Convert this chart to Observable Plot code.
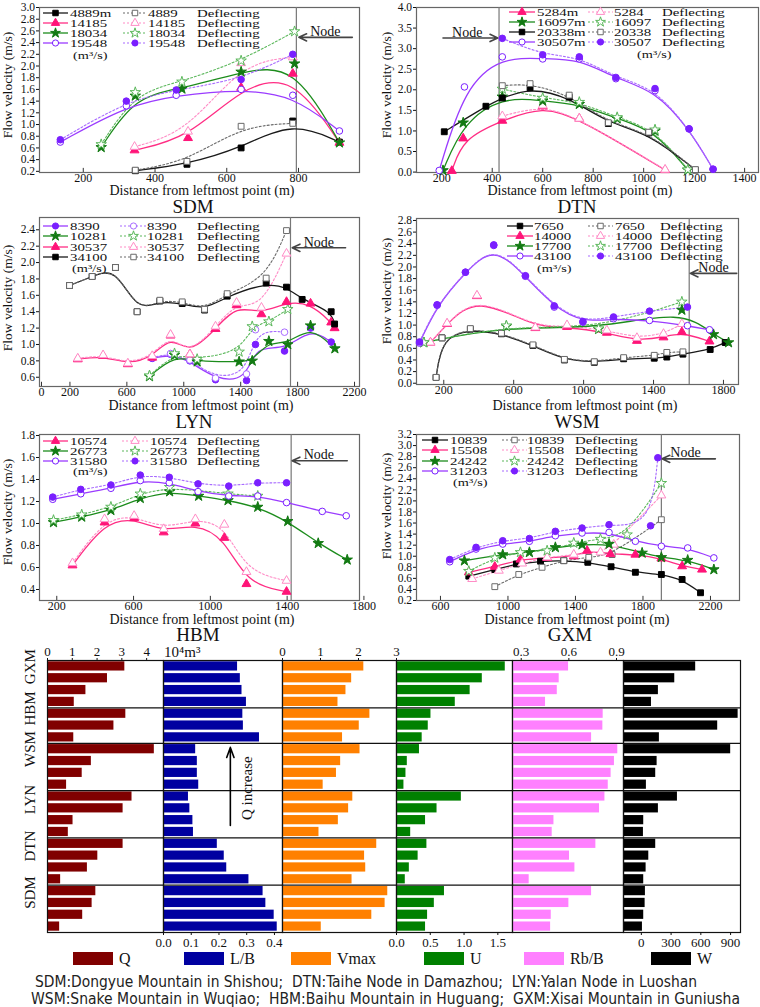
<!DOCTYPE html>
<html><head><meta charset="utf-8">
<script src="https://cdn.jsdelivr.net/npm/d3@7"></script>
<script src="https://cdn.jsdelivr.net/npm/@observablehq/plot@0.6"></script>
<style>
body{margin:0;background:#fff;}
#wrap{position:relative;width:760px;height:1007px;overflow:hidden;background:#fff;}
</style></head><body><div id="wrap"></div>
<script>
// ================= DATA: line panels ([distance m, velocity m/s]) =================
// SDM
const SDM_4889    = [[345,0.21],[489,0.32],[640,0.60],[784,1.06],[914,0.70]];
const SDM_4889_D  = [[345,0.22],[489,0.37],[640,0.97],[784,1.02]];
const SDM_14185   = [[343,0.56],[492,0.77],[640,1.63],[784,1.87],[914,0.69]];
const SDM_14185_D = [[343,0.62],[492,0.88],[640,2.05],[784,2.15]];
const SDM_18034   = [[250,0.61],[345,1.49],[475,1.61],[640,1.90],[789,2.04],[914,0.69]];
const SDM_18034_D = [[250,0.66],[345,1.55],[475,1.73],[640,2.09],[789,2.59]];
const SDM_19548   = [[136,0.70],[320,1.32],[459,1.50],[640,1.60],[784,1.50],[914,0.89]];
const SDM_19548_D = [[136,0.74],[320,1.40],[459,1.59],[640,1.77],[784,2.20]];
// DTN
const DTN_5284    = [[240,0.03],[285,0.82],[440,1.25],[600,1.60],[745,1.30],[1085,0.05]];
const DTN_5284_D  = [[440,1.36],[600,1.62],[745,1.30],[1085,0.06]];
const DTN_16097   = [[205,0.04],[285,1.20],[440,1.83],[600,1.73],[745,1.65],[895,1.30],[1045,1.00],[1175,0.05]];
const DTN_16097_D = [[440,2.02],[600,1.80],[745,1.70],[895,1.33],[1045,1.03],[1175,0.06]];
const DTN_20338   = [[210,0.98],[375,1.60],[440,1.80],[550,2.05],[705,1.82],[860,1.18],[1020,0.95],[1205,0.05]];
const DTN_20338_D = [[440,2.10],[550,2.15],[705,1.87],[860,1.20],[1020,0.97],[1205,0.06]];
const DTN_30507   = [[190,0.04],[290,2.07],[440,2.80],[600,2.75],[745,2.75],[890,2.27],[1045,1.98],[1180,1.05],[1275,0.07]];
const DTN_30507_D = [[440,3.25],[600,2.85],[745,2.80],[890,2.30],[1045,2.03],[1180,1.05],[1275,0.07]];
// LYN
const LYN_8390    = [[778,0.83],[907,0.88],[1043,0.80],[1223,0.57],[1441,0.56],[1504,1.00],[1708,0.92],[1891,1.20],[2036,1.03]];
const LYN_8390_D  = [[778,0.84],[907,0.89],[1043,0.81],[1223,0.59],[1441,0.64],[1504,1.18],[1708,1.15]];
const LYN_10281   = [[759,0.61],[935,0.87],[1094,0.79],[1389,0.79],[1481,0.80],[1598,1.04],[1731,1.00],[1891,1.23],[2062,0.95]];
const LYN_10281_D = [[759,0.62],[935,0.89],[1094,0.82],[1389,0.91],[1481,1.22],[1598,1.28],[1731,1.43]];
const LYN_30537   = [[255,0.82],[433,0.86],[607,0.76],[778,0.84],[907,1.11],[1043,0.88],[1223,1.19],[1371,1.48],[1546,1.37],[1722,1.52],[1891,1.50],[2036,1.27],[2060,1.20]];
const LYN_30537_D = [[255,0.83],[433,0.87],[607,0.77],[778,0.86],[907,1.12],[1043,0.88],[1223,1.22],[1371,1.51],[1546,1.45],[1722,2.11]];
const LYN_34100   = [[197,1.72],[356,1.83],[520,1.94],[672,1.40],[832,1.53],[989,1.50],[1146,1.42],[1305,1.59],[1579,1.75],[1722,1.70],[1832,1.55],[2036,1.40],[2060,1.25]];
const LYN_34100_D = [[197,1.72],[356,1.83],[520,1.94],[672,1.40],[832,1.54],[989,1.52],[1146,1.43],[1305,1.62],[1579,1.81],[1722,2.39]];
// WSM
const WSM_7650    = [[156,0.10],[190,0.78],[352,0.93],[530,0.85],[710,0.65],[890,0.40],[1061,0.36],[1229,0.42],[1404,0.43],[1476,0.45],[1568,0.50],[1724,0.58],[1810,0.70]];
const WSM_7650_D  = [[156,0.10],[190,0.78],[352,0.94],[530,0.86],[710,0.66],[890,0.41],[1061,0.37],[1229,0.44],[1404,0.48],[1476,0.53],[1568,0.54]];
const WSM_14000   = [[124,0.70],[219,1.02],[390,1.50],[724,0.95],[905,0.97],[1133,0.87],[1305,0.73],[1457,0.79],[1562,0.88],[1720,0.72]];
const WSM_14000_D = [[124,0.70],[219,1.03],[390,1.51],[724,0.96],[905,1.00],[1133,0.91],[1305,0.78],[1457,0.85],[1562,1.02]];
const WSM_17700   = [[86,0.70],[558,0.98],[1086,0.93],[1562,1.26],[1743,0.84],[1829,0.70]];
const WSM_17700_D = [[86,0.70],[558,0.99],[1086,0.94],[1562,1.40]];
const WSM_43100   = [[61,0.69],[162,1.34],[324,1.91],[486,2.37],[667,1.84],[832,1.31],[996,1.05],[1171,1.11],[1377,1.08],[1594,0.99],[1720,0.92]];
const WSM_43100_D = [[61,0.71],[162,1.35],[324,1.91],[486,2.38],[667,1.85],[832,1.33],[996,1.06],[1171,1.14],[1377,1.24],[1594,1.31]];
// HBM
const HBM_10574   = [[282,0.62],[449,1.01],[603,1.05],[757,0.92],[922,1.00],[1073,0.87],[1188,0.45],[1397,0.38]];
const HBM_10574_D = [[282,0.64],[449,1.04],[603,1.07],[757,0.95],[922,1.04],[1073,0.99],[1188,0.56],[1397,0.48]];
const HBM_26773   = [[183,1.01],[330,1.06],[482,1.12],[635,1.23],[788,1.29],[939,1.25],[1092,1.21],[1247,1.15],[1403,1.02],[1562,0.82],[1713,0.67]];
const HBM_26773_D = [[183,1.03],[330,1.08],[482,1.15],[635,1.27],[788,1.33],[1092,1.27],[1247,1.25]];
const HBM_31580   = [[179,1.22],[325,1.27],[482,1.32],[635,1.39],[786,1.37],[936,1.29],[1096,1.25],[1247,1.25],[1397,1.19],[1583,1.11],[1708,1.07]];
const HBM_31580_D = [[179,1.24],[325,1.31],[482,1.35],[635,1.44],[786,1.42],[936,1.36],[1096,1.34],[1247,1.37],[1397,1.37]];
// GXM
const GXM_10839   = [[768,0.64],[922,0.76],[1050,0.86],[1193,0.91],[1331,0.92],[1473,0.89],[1611,0.81],[1755,0.71],[1909,0.67],[2032,0.58],[2141,0.34]];
const GXM_10839_D = [[922,0.45],[1064,0.67],[1202,0.80],[1331,0.92],[1479,0.98],[1617,1.03],[1909,1.66]];
const GXM_15508   = [[768,0.71],[922,0.81],[1074,0.94],[1232,0.97],[1390,1.00],[1469,1.10],[1607,1.04],[1755,1.03],[1909,0.96],[2032,0.82],[2150,0.76]];
const GXM_15508_D = [[788,0.59],[946,0.74],[1084,0.87],[1232,0.98],[1390,1.03],[1548,1.07],[1627,1.21],[1909,2.10]];
const GXM_24242   = [[742,0.92],[969,1.03],[1127,1.07],[1281,1.16],[1439,1.21],[1599,1.22],[1795,1.06],[1909,0.98],[2065,0.93],[2220,0.76]];
const GXM_24242_D = [[768,0.73],[922,0.97],[1074,1.07],[1232,1.10],[1390,1.24],[1548,1.31],[1706,1.39],[1909,2.32]];
const GXM_31203   = [[655,0.90],[811,1.13],[969,1.22],[1127,1.27],[1281,1.37],[1439,1.42],[1599,1.43],[1755,1.27],[1909,1.18],[2065,1.15],[2220,0.97]];
const GXM_31203_D = [[655,0.94],[811,1.16],[969,1.28],[1127,1.32],[1281,1.45],[1439,1.51],[1599,1.57],[1845,1.55],[1888,2.78]];

// ticks
const SDM_XTICKS = [200,400,600,800];
const SDM_YTICKS = [0.2,0.4,0.6,0.8,1.0,1.2,1.4,1.6,1.8,2.0,2.2,2.4,2.6,2.8,3.0];
const DTN_XTICKS = [200,400,600,800,1000,1200,1400];
const DTN_YTICKS = [0,0.5,1.0,1.5,2.0,2.5,3.0,3.5,4.0];
const LYN_XTICKS = [0,200,600,1000,1400,1800,2200];
const LYN_YTICKS = [0.6,0.8,1.0,1.2,1.4,1.6,1.8,2.0,2.2,2.4];
const WSM_XTICKS = [200,600,1000,1400,1800];
const WSM_YTICKS = [0,0.2,0.4,0.6,0.8,1.0,1.2,1.4,1.6,1.8,2.0,2.2,2.4,2.6,2.8];
const HBM_XTICKS = [200,600,1000,1400,1800];
const HBM_YTICKS = [0.4,0.6,0.8,1.0,1.2,1.4,1.6,1.8];
const GXM_XTICKS = [600,1000,1400,1800,2200];
const GXM_YTICKS = [0.2,0.4,0.6,0.8,1.0,1.2,1.4,1.6,1.8,2.0,2.2,2.4,2.6,2.8,3.0,3.2];

// node annotations (SDM, DTN, LYN, WSM, HBM, GXM)
const NODE_X = [794, 427, 1750, 1604, 1421, 1909];
const NODE_ARROW = [[950,801,2.49],[205,422,3.26],[2137,1762,2.18],[1876,1610,1.89],[1713,1426,1.57],[2229,1913,2.76]];
const NODE_LABEL = [[875,2.59],[301,3.39],[1949,2.25],[1743,1.99],[1565,1.63],[2052,2.87]];

// legend labels
const SDM_LEG = ["4889m","14185","18034","19548"], SDM_LEG_D = ["4889","14185","18034","19548"];
const DTN_LEG = ["5284m","16097m","20338m","30507m"], DTN_LEG_D = ["5284","16097","20338","30507"];
const LYN_LEG = ["8390","10281","30537","34100"];
const WSM_LEG = ["7650","14000","17700","43100"];
const HBM_LEG = ["10574","26773","31580"];
const GXM_LEG = ["10839","15508","24242","31203"];

// ================= DATA: bar panel (top to bottom) =================
const STATIONS = ["GXM","HBM","WSM","LYN","DTN","SDM"];
const STATION_COUNTS = [4,3,4,4,4,4];
const Q    = [3.12,2.42,1.55,1.08, 3.16,2.68,1.06, 4.31,1.77,1.40,0.77, 3.41,3.05,1.03,0.84, 3.05,2.03,1.61,0.53, 1.95,1.80,1.42,0.49];
const LB   = [0.267,0.277,0.283,0.299, 0.286,0.288,0.346, 0.116,0.122,0.122,0.127, 0.090,0.095,0.106,0.108, 0.194,0.219,0.228,0.308, 0.359,0.369,0.399,0.410];
const VMAX = [2.14,1.82,1.67,1.46, 2.30,2.02,1.58, 2.04,1.53,1.42,1.07, 1.85,1.74,1.47,0.96, 2.48,2.16,2.19,1.83, 2.77,2.70,2.35,1.02];
const U    = [1.61,1.27,1.09,0.87, 0.51,0.47,0.38, 0.34,0.16,0.14,0.11, 0.96,0.60,0.43,0.21, 0.45,0.32,0.19,0.13, 0.71,0.56,0.46,0.43];
const RBB  = [0.598,0.539,0.527,0.453, 0.816,0.814,0.743, 0.908,0.887,0.866,0.848, 0.827,0.793,0.506,0.495, 0.770,0.604,0.638,0.350, 0.743,0.600,0.489,0.485];
const W    = [548,337,172,102, 976,770,182, 901,159,145,51, 364,172,24,21, 145,75,48,24, 41,38,24,11];
const Q_TICKS = [0,1,2,3,4];
const LB_TICKS = [0,0.1,0.2,0.3,0.4];
const VMAX_TICKS = [0,1,2,3];
const U_TICKS = [0,0.5,1.0,1.5];
const RBB_TICKS = [0.3,0.6,0.9];
const W_TICKS = [0,300,600,900];
const Q_ARROW = [[0.241, 13.95, 7.35]];
const Q_LABEL = [[0.302, 10.8]];
const BAR_LEGEND = ["Q","L/B","Vmax","U","Rb/B","W"];
const CAPTION = ["SDM:Dongyue Mountain in Shishou;  DTN:Taihe Node in Damazhou;  LYN:Yalan Node in Luoshan",
                 "WSM:Snake Mountain in Wuqiao;  HBM:Baihu Mountain in Huguang;  GXM:Xisai Mountain in Guniusha"];

// ================= STYLE =================
const FONT = "'Liberation Serif','Times New Roman',serif";
const LINE = {black:"#1a1a1a", pink:"#ff2d84", green:"#1c8c1c", purple:"#9b3cff"};
const DOTL = {black:"#6a6a6a", pink:"#ff8cc6", green:"#5cb85c", purple:"#a86bff"};
const MARK = {black:"#000000", pink:"#ff1478", green:"#137a13", purple:"#7a1fff"};
const BAR_COLORS = ["#800000","#0000a0","#ff8000","#008000","#ff80ff","#000000"];

function S(data, c, sym, filled, dotted){ return {data, c, sym, filled, dotted}; }

const PANELS = [
 {name:"SDM", left:0, top:0, mt:7, mr:21, mb:43, ml:39, xd:[78,970], yd:[0.18,3.0], xt:SDM_XTICKS, yt:SDM_YTICKS, yf:".1f",
  series:[S(SDM_4889,"black","square",true,false),S(SDM_4889_D,"black","square",false,true),
          S(SDM_14185,"pink","triangle",true,false),S(SDM_14185_D,"pink","triangle",false,true),
          S(SDM_18034,"green","star",true,false),S(SDM_18034_D,"green","star",false,true),
          S(SDM_19548,"purple","circle",false,false),S(SDM_19548_D,"purple","circle",true,true)],
  leg:SDM_LEG, legD:SDM_LEG_D,
  L:{a:43,len:25,t:70,b:123,len2:24,n:148,d:197,rows:[13,23,33,43],ux:73,uy:55},
  title:[193,213], xtitle:[202,195], ytitle:[7,85]},
 {name:"DTN", left:380, top:0, mt:7, mr:2, mb:43, ml:36, xd:[100,1455], yd:[-0.01,4.0], xt:DTN_XTICKS, yt:DTN_YTICKS, yf:".1f",
  series:[S(DTN_5284,"pink","triangle",true,false),S(DTN_5284_D,"pink","triangle",false,true),
          S(DTN_16097,"green","star",true,false),S(DTN_16097_D,"green","star",false,true),
          S(DTN_20338,"black","square",true,false),S(DTN_20338_D,"black","square",false,true),
          S(DTN_30507,"purple","circle",false,false),S(DTN_30507_D,"purple","circle",true,true)],
  leg:DTN_LEG, legD:DTN_LEG_D,
  L:{a:509,len:26,t:537,b:588,len2:25,n:614,d:662,rows:[12,22,32,42],ux:637,uy:54},
  title:[577,213], xtitle:[580,195], ytitle:[386,85]},
 {name:"LYN", left:0, top:210, mt:7, mr:21, mb:39, ml:39, xd:[-14,2235], yd:[0.487,2.55], xt:LYN_XTICKS, yt:LYN_YTICKS, yf:".1f",
  series:[S(LYN_8390,"purple","circle",true,false),S(LYN_8390_D,"purple","circle",false,true),
          S(LYN_10281,"green","star",true,false),S(LYN_10281_D,"green","star",false,true),
          S(LYN_30537,"pink","triangle",true,false),S(LYN_30537_D,"pink","triangle",false,true),
          S(LYN_34100,"black","square",true,false),S(LYN_34100_D,"black","square",false,true)],
  leg:LYN_LEG, legD:LYN_LEG,
  L:{a:43,len:25,t:70,b:120,len2:27,n:147,d:197,rows:[226,236,247,257],ux:72,uy:268},
  title:[194,428], xtitle:[201,410], ytitle:[7,298]},
 {name:"WSM", left:380, top:210, mt:8, mr:22, mb:41, ml:36, xd:[44,1886], yd:[-0.022,2.834], xt:WSM_XTICKS, yt:WSM_YTICKS, yf:".1f",
  series:[S(WSM_7650,"black","square",true,false),S(WSM_7650_D,"black","square",false,true),
          S(WSM_14000,"pink","triangle",true,false),S(WSM_14000_D,"pink","triangle",false,true),
          S(WSM_17700,"green","star",true,false),S(WSM_17700_D,"green","star",false,true),
          S(WSM_43100,"purple","circle",false,false),S(WSM_43100_D,"purple","circle",true,true)],
  leg:WSM_LEG, legD:WSM_LEG,
  L:{a:507,len:26,t:534,b:588,len2:25,n:615,d:660,rows:[226,236,246,256],ux:537,uy:268},
  title:[577,428], xtitle:[585,410], ytitle:[386,291]},
 {name:"HBM", left:0, top:420, mt:14, mr:21, mb:35, ml:39, xd:[110,1777], yd:[0.3,1.809], xt:HBM_XTICKS, yt:HBM_YTICKS, yf:".1f",
  series:[S(HBM_10574,"pink","triangle",true,false),S(HBM_10574_D,"pink","triangle",false,true),
          S(HBM_26773,"green","star",true,false),S(HBM_26773_D,"green","star",false,true),
          S(HBM_31580,"purple","circle",false,false),S(HBM_31580_D,"purple","circle",true,true)],
  leg:HBM_LEG, legD:HBM_LEG,
  L:{a:43,len:25,t:70,b:122,len2:26,n:150,d:197,rows:[441,451,461],ux:73,uy:471},
  title:[198,641], xtitle:[202,624], ytitle:[7,512]},
 {name:"GXM", left:380, top:420, mt:14, mr:21, mb:35, ml:36, xd:[458,2372], yd:[0.2,3.2], xt:GXM_XTICKS, yt:GXM_YTICKS, yf:".1f",
  series:[S(GXM_10839,"black","square",true,false),S(GXM_10839_D,"black","square",false,true),
          S(GXM_15508,"pink","triangle",true,false),S(GXM_15508_D,"pink","triangle",false,true),
          S(GXM_24242,"green","star",true,false),S(GXM_24242_D,"green","star",false,true),
          S(GXM_31203,"purple","circle",false,false),S(GXM_31203_D,"purple","circle",true,true)],
  leg:GXM_LEG, legD:GXM_LEG,
  L:{a:422,len:26,t:450,b:502,len2:25,n:527,d:575,rows:[440,450,461,471],ux:453,uy:482},
  title:[570,641], xtitle:[577,624], ytitle:[386,506]}
];

const wrap = document.getElementById("wrap");
function place(svg, left, top){
  svg.style.position = "absolute"; svg.style.left = left + "px"; svg.style.top = top + "px";
  wrap.appendChild(svg);
}
const baseStyle = {fontFamily: FONT, fontSize: "12px", background: "transparent", overflow: "visible", color: "#111"};

PANELS.forEach((p, k) => {
  const tickLen = (p.yd[1] - p.yd[0]) * 0.025;
  const marks = [
    Plot.frame({stroke:"#666", strokeWidth:1.2}),
    Plot.ruleX(p.xt, {y1:p.yd[0], y2:p.yd[0] + tickLen, stroke:"#333"}),
    Plot.ruleX([NODE_X[k]], {stroke:"#777", strokeWidth:1.2}),
    Plot.arrow([NODE_ARROW[k]], {x1:d=>d[0], x2:d=>d[1], y1:d=>d[2], y2:d=>d[2], stroke:"#444", strokeWidth:1.6, headLength:8, headAngle:50}),
    Plot.text([NODE_LABEL[k]], {x:d=>d[0], y:d=>d[1], text:()=>"Node", fontSize:14, fill:"#111"})
  ];
  p.series.forEach(s => {
    marks.push(Plot.line(s.data, {x:d=>d[0], y:d=>d[1], curve:"basis",
      stroke: s.dotted ? DOTL[s.c] : LINE[s.c], strokeWidth: s.dotted ? 1.1 : 1.3,
      strokeDasharray: s.dotted ? "2,2" : null}));
  });
  p.series.forEach(s => {
    marks.push(Plot.dot(s.data, {x:d=>d[0], y:d=>d[1], symbol:s.sym, r:3.3,
      fill: s.filled ? MARK[s.c] : "white", stroke: s.filled ? MARK[s.c] : (s.dotted ? DOTL[s.c] : MARK[s.c]), strokeWidth:1}));
  });
  marks.push(Plot.axisX({ticks:p.xt, tickFormat:"d", tickSize:0, tickPadding:1, label:null, fontSize:12}));
  marks.push(Plot.axisY({ticks:p.yt, tickFormat:p.yf, tickSize:3, tickPadding:1.5, label:null, fontSize:11.5}));
  const svg = Plot.plot({width:380, height:215, marginTop:p.mt, marginRight:p.mr, marginBottom:p.mb, marginLeft:p.ml,
    x:{domain:p.xd}, y:{domain:p.yd}, style:baseStyle, marks});
  place(svg, p.left, p.top);
});

// ================= bar panels =================
const GROUP_BOUNDS = d3.cumsum(STATION_COUNTS).slice(0, -1);
const GROUP_STARTS = [0, ...GROUP_BOUNDS];
const GROUP_CENTERS = GROUP_STARTS.map((s, i) => s + STATION_COUNTS[i] / 2);
const NBARS = d3.sum(STATION_COUNTS);

const BARS = [
  {vals:Q,    left:0,   w:163, ml:47, domain:[0,4.68],    ticks:Q_TICKS,    anchor:"top",    fmt:"d"},
  {vals:LB,   left:163, w:119, ml:0,  domain:[0,0.429],   ticks:LB_TICKS,   anchor:"bottom", fmt:".1f"},
  {vals:VMAX, left:282, w:114, ml:0,  domain:[0,3],       ticks:VMAX_TICKS, anchor:"top",    fmt:"d"},
  {vals:U,    left:396, w:116, ml:0,  domain:[0,1.717],   ticks:U_TICKS,    anchor:"bottom", fmt:".1f"},
  {vals:RBB,  left:512, w:111, ml:0,  domain:[0.245,0.944], ticks:RBB_TICKS, anchor:"top",   fmt:".1f"},
  {vals:W,    left:623, w:117, ml:0,  domain:[-180,1000], ticks:W_TICKS,    anchor:"bottom", fmt:"d"}
];
BARS.forEach((c, k) => {
  const rows = c.vals.map((v, i) => ({i, v}));
  const marks = [
    Plot.rect(rows, {x1:()=>c.domain[0], x2:d=>d.v, y1:d=>d.i, y2:d=>d.i+1, insetTop:1.3, insetBottom:1.3, fill:BAR_COLORS[k]}),
    Plot.ruleY(GROUP_BOUNDS, {stroke:"#111", strokeWidth:1.2}),
    Plot.frame({stroke:"#111", strokeWidth:1.2}),
    Plot.axisX({anchor:c.anchor, ticks:c.ticks, tickFormat:c.fmt, tickSize:3, tickPadding:2, label:null, fontSize:13})
  ];
  if (k === 0) {
    marks.push(Plot.text(STATIONS, {y:(d,i)=>GROUP_CENTERS[i], text:d=>d, frameAnchor:"left", dx:-17, rotate:-90, fontSize:15, fill:"#111"}));
  }
  if (k === 1) {
    marks.push(Plot.arrow(Q_ARROW, {x1:d=>d[0], x2:d=>d[0], y1:d=>d[1], y2:d=>d[2], stroke:"#000", strokeWidth:1.6, headLength:10, headAngle:40}));
    marks.push(Plot.text(Q_LABEL, {x:d=>d[0], y:d=>d[1], text:()=>"Q increase", rotate:-90, fontSize:15, fill:"#111"}));
  }
  const svg = Plot.plot({width:c.w, height:310, marginTop:20, marginBottom:18, marginLeft:c.ml, marginRight:0,
    x:{domain:c.domain}, y:{domain:[0, NBARS], reverse:true, axis:null}, style:baseStyle, marks});
  place(svg, c.left, 640);
});

// ================= overlay texts / legends =================
const ov = d3.select(wrap).append("svg").attr("width",760).attr("height",1007)
  .style("position","absolute").style("left","0px").style("top","0px").style("overflow","visible")
  .attr("font-family", FONT);
const SYMS = {square:d3.symbolSquare, triangle:d3.symbolTriangle, star:d3.symbolStar, circle:d3.symbolCircle};
function txt(x, y, s, size, anchor){ return ov.append("text").attr("x",x).attr("y",y).attr("font-size",size)
  .attr("text-anchor",anchor||"start").attr("fill","#111").style("white-space","pre").text(s); }
function wide(x, y, s, size, sx){ return ov.append("text").attr("transform",`translate(${x},${y}) scale(${sx},1)`)
  .attr("font-size",size).attr("fill","#111").style("white-space","pre").text(s); }

PANELS.forEach(p => {
  txt(p.title[0], p.title[1], p.name, 19, "middle");
  txt(p.xtitle[0], p.xtitle[1], "Distance from leftmost point (m)", 14, "middle");
  ov.append("text").attr("transform",`translate(${p.ytitle[0]},${p.ytitle[1]}) rotate(-90)`)
    .attr("text-anchor","middle").attr("dominant-baseline","central").attr("font-size",13.5).attr("fill","#111")
    .text("Flow velocity (m/s)");
  const L = p.L;
  const solids = p.series.filter(s=>!s.dotted), dots = p.series.filter(s=>s.dotted);
  solids.forEach((s, k) => {
    const y = L.rows[k];
    ov.append("line").attr("x1",L.a).attr("x2",L.a+L.len).attr("y1",y).attr("y2",y).attr("stroke",LINE[s.c]).attr("stroke-width",1.3);
    ov.append("path").attr("d", d3.symbol(SYMS[s.sym], 30)()).attr("transform",`translate(${L.a+L.len/2},${y})`)
      .attr("fill", s.filled ? MARK[s.c] : "white").attr("stroke", MARK[s.c]);
    wide(L.t, y+4, p.leg[k], 11, 1.35);
    const sd = dots[k];
    ov.append("line").attr("x1",L.b).attr("x2",L.b+L.len2).attr("y1",y).attr("y2",y).attr("stroke",DOTL[sd.c]).attr("stroke-width",1.1).attr("stroke-dasharray","2,2");
    ov.append("path").attr("d", d3.symbol(SYMS[sd.sym], 30)()).attr("transform",`translate(${L.b+L.len2/2},${y})`)
      .attr("fill", sd.filled ? MARK[sd.c] : "white").attr("stroke", sd.filled ? MARK[sd.c] : DOTL[sd.c]);
    wide(L.n, y+4, p.legD[k], 11, 1.35);
    wide(L.d, y+4, "Deflecting", 11, 1.35);
  });
  wide(L.ux, L.uy+4, "(m³/s)", 11, 1.3);
});

// unit of Q axis
txt(164, 657, "10⁴m³", 15);

// bottom legend
const LEG_BOX = [73,184,291,424,524,651];
BAR_LEGEND.forEach((s, k) => {
  ov.append("rect").attr("x",LEG_BOX[k]).attr("y",952).attr("width",40).attr("height",13).attr("fill",BAR_COLORS[k]);
  txt(LEG_BOX[k]+46, 964, s, 16);
});
// caption
const CAP_POS = [[35,987,662],[31,1004,709]];
CAPTION.forEach((s, k) => {
  ov.append("text").attr("x",CAP_POS[k][0]).attr("y",CAP_POS[k][1]).attr("font-size",15)
    .attr("font-family","'Liberation Sans Narrow','DejaVu Sans Condensed','Liberation Sans',sans-serif")
    .attr("textLength",CAP_POS[k][2]).attr("lengthAdjust","spacingAndGlyphs").attr("fill","#222")
    .style("white-space","pre").text(s);
});
</script></body></html>
